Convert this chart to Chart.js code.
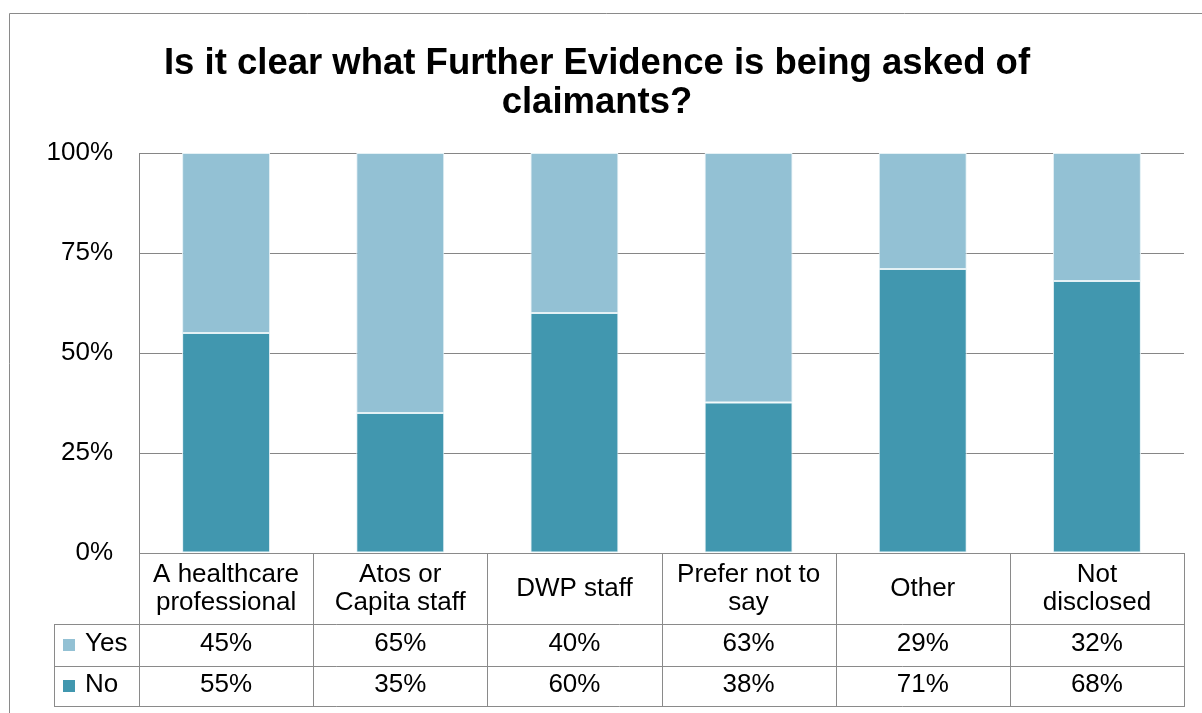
<!DOCTYPE html>
<html>
<head>
<meta charset="utf-8">
<script src="https://cdn.jsdelivr.net/npm/chart.js@4.4.1/dist/chart.umd.min.js"></script>
<style>
html,body{margin:0;padding:0;background:#fff;}
canvas{display:block;}
</style>
</head>
<body>
<canvas id="c" width="1202" height="713"></canvas>
<script>
// ---- data ----
const titleLines = ['Is it clear what Further Evidence is being asked of', 'claimants?'];
const categories = [
  ['A healthcare', 'professional'],
  ['Atos or', 'Capita staff'],
  ['DWP staff'],
  ['Prefer not to', 'say'],
  ['Other'],
  ['Not', 'disclosed']
];
const seriesNames = ['Yes', 'No'];
const yesValues = [45, 65, 40, 63, 29, 32];
const noValues  = [55, 35, 60, 38, 71, 68];
const yTickValues = [0, 25, 50, 75, 100];

// ---- styles ----
const FONT = '"Liberation Sans", Arial, Helvetica, sans-serif';
const COLOR_YES = '#93c1d4';
const COLOR_NO = '#4197af';
const LINE = '#8a8a8a';

// 100% stacked shares derived from the table values
const share = (arr, i) => arr[i] / (yesValues[i] + noValues[i]) * 100;
const yesShare = yesValues.map((v, i) => share(yesValues, i));
const noShare = noValues.map((v, i) => share(noValues, i));

const backgroundPlugin = {
  id: 'bgBorder',
  beforeDraw(chart) {
    const ctx = chart.ctx;
    ctx.save();
    ctx.fillStyle = '#fff';
    ctx.fillRect(0, 0, chart.width, chart.height);
    ctx.strokeStyle = LINE;
    ctx.lineWidth = 1;
    ctx.beginPath();
    ctx.moveTo(9.5, chart.height + 2);
    ctx.lineTo(9.5, 13.5);
    ctx.lineTo(chart.width + 2, 13.5);
    ctx.stroke();
    ctx.restore();
  }
};

const tablePlugin = {
  id: 'dataTable',
  afterDraw(chart) {
    const ctx = chart.ctx;
    const area = chart.chartArea;
    const x = chart.scales.x;
    const n = categories.length;
    const centers = categories.map((_, i) => x.getPixelForValue(i));
    const half = (centers[1] - centers[0]) / 2;
    const bounds = [centers[0] - half].concat(centers.map(c => c + half));
    const top = area.bottom;
    const hdrB = top + 71;
    const yesB = hdrB + 42;
    const noB = yesB + 40;
    const tableL = 54;
    const px = v => Math.round(v) + 0.5;

    ctx.save();
    ctx.strokeStyle = LINE;
    ctx.lineWidth = 1;
    const hl = (x1, x2, y) => { ctx.beginPath(); ctx.moveTo(Math.round(x1), px(y)); ctx.lineTo(Math.round(x2) + 1, px(y)); ctx.stroke(); };
    const vl = (xx, y1, y2) => { ctx.beginPath(); ctx.moveTo(px(xx), Math.round(y1)); ctx.lineTo(px(xx), Math.round(y2) + 1); ctx.stroke(); };
    hl(bounds[0], bounds[n], top);
    hl(tableL, bounds[n], hdrB);
    hl(tableL, bounds[n], yesB);
    hl(tableL, bounds[n], noB);
    bounds.forEach(b => vl(b, top, noB));
    vl(tableL, hdrB, noB);

    ctx.fillStyle = '#000';
    ctx.font = '26px ' + FONT;
    ctx.textAlign = 'center';
    ctx.textBaseline = 'middle';
    const lh = 28;
    categories.forEach((lab, i) => {
      const lines = Array.isArray(lab) ? lab : [lab];
      const y0 = (top + hdrB) / 2 - (lines.length - 1) * lh / 2;
      lines.forEach((t, j) => ctx.fillText(t, centers[i], y0 + j * lh));
    });

    const rows = [
      { name: seriesNames[0], values: yesValues, color: COLOR_YES, t: hdrB, b: yesB },
      { name: seriesNames[1], values: noValues, color: COLOR_NO, t: yesB, b: noB }
    ];
    rows.forEach(r => {
      const mid = (r.t + r.b) / 2;
      ctx.textAlign = 'center';
      r.values.forEach((v, i) => ctx.fillText(v + '%', centers[i], mid - 1));
      ctx.fillStyle = r.color;
      ctx.fillRect(63, Math.round(mid - 6), 12, 12);
      ctx.fillStyle = '#000';
      ctx.textAlign = 'left';
      ctx.fillText(r.name, 85, mid - 1);
    });
    ctx.restore();
  }
};

new Chart(document.getElementById('c'), {
  type: 'bar',
  data: {
    labels: categories.map(c => c.join(' ')),
    datasets: [
      { label: seriesNames[1], data: noShare, backgroundColor: COLOR_NO, borderColor: '#e4f1f5', borderWidth: 1, borderSkipped: false },
      { label: seriesNames[0], data: yesShare, backgroundColor: COLOR_YES, borderColor: '#e4f1f5', borderWidth: 1, borderSkipped: false }
    ]
  },
  options: {
    responsive: false,
    devicePixelRatio: 1,
    animation: false,
    layout: { padding: { left: 10, right: 18, top: 44.5, bottom: 7 } },
    datasets: { bar: { categoryPercentage: 1.0, barPercentage: 0.505 } },
    plugins: {
      legend: { display: false },
      tooltip: { enabled: false },
      title: {
        display: true,
        text: titleLines,
        color: '#000',
        font: { family: FONT, size: 36.5, weight: 'bold', lineHeight: 1.07 },
        padding: { top: 0, bottom: 30.4 }
      }
    },
    scales: {
      x: {
        stacked: true,
        grid: { display: false, drawTicks: false },
        border: { display: false },
        ticks: { display: false },
        afterFit: s => { s.height = 153; }
      },
      y: {
        stacked: true,
        min: 0,
        max: 100,
        afterBuildTicks: s => { s.ticks = yTickValues.map(v => ({ value: v })); },
        grid: { color: '#868686', lineWidth: 1, drawTicks: false },
        border: { display: true, color: '#868686', width: 1 },
        ticks: {
          padding: 26,
          color: '#000',
          font: { family: FONT, size: 26 },
          callback: v => v + '%'
        },
        afterFit: s => { s.width = 129; }
      }
    }
  },
  plugins: [backgroundPlugin, tablePlugin]
});
</script>
</body>
</html>
